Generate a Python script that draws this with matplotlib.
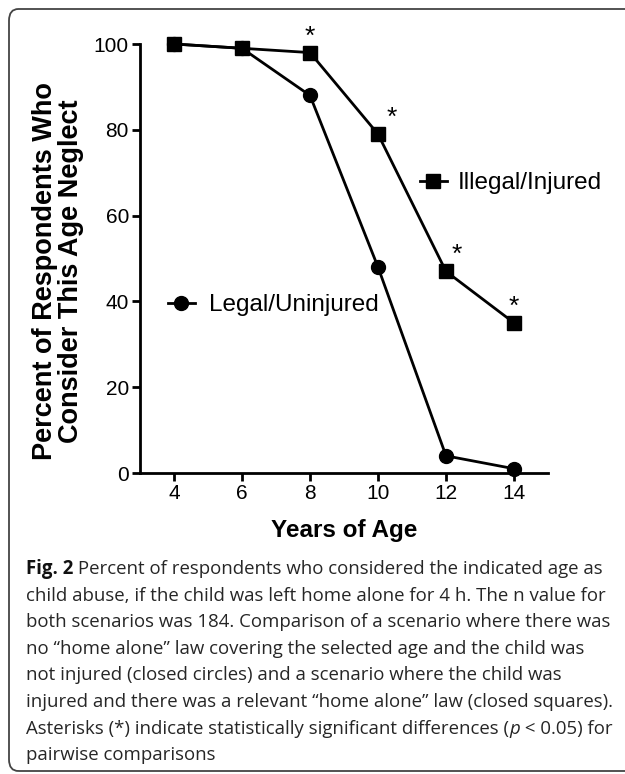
import matplotlib
matplotlib.use('Agg')
import matplotlib.pyplot as plt
from matplotlib.lines import Line2D
from matplotlib.patches import FancyBboxPatch

# データ
ages = [4, 6, 8, 10, 12, 14]
illegal_injured = [100, 99, 98, 79, 47, 35]
legal_uninjured = [100, 99, 88, 48, 4, 1]
sig_ages = [8, 10, 12, 14]
xticks = [4, 6, 8, 10, 12, 14]
yticks = [0, 20, 40, 60, 80, 100]

caption_lines = [
    [('Fig. 2', 'bold'), (' Percent of respondents who considered the indicated age as', 'normal')],
    [('child abuse, if the child was left home alone for 4 h. The n value for', 'normal')],
    [('both scenarios was 184. Comparison of a scenario where there was', 'normal')],
    [('no \u201chome alone\u201d law covering the selected age and the child was', 'normal')],
    [('not injured (closed circles) and a scenario where the child was', 'normal')],
    [('injured and there was a relevant \u201chome alone\u201d law (closed squares).', 'normal')],
    [('Asterisks (*) indicate statistically significant differences (', 'normal'),
     ('p', 'italic'), (' < 0.05) for', 'normal')],
    [('pairwise comparisons', 'normal')],
]

plt.rcParams['font.family'] = ['Liberation Sans', 'DejaVu Sans']

W, H = 625, 774
fig = plt.figure(figsize=(W / 100, H / 100), dpi=100)

# 枠線
box = FancyBboxPatch((9 / W, 1 - 771 / H), 640 / W, 762 / H,
                     boxstyle='round,pad=0,rounding_size=0.015',
                     transform=fig.transFigure, fill=False,
                     edgecolor='#444444', linewidth=1.3)
fig.patches.append(box)

ax = fig.add_axes([140 / W, 1 - 473 / H, 408 / W, 429 / H])
ax.patch.set_alpha(0)

lw = 2.0
ax.plot(ages, illegal_injured, color='black', lw=lw, marker='s', ms=9.5, clip_on=False, zorder=3)
ax.plot(ages, legal_uninjured, color='black', lw=lw, marker='o', ms=10, clip_on=False, zorder=3)

# 有意差のアスタリスク
offsets = {8: (0, 3), 10: (10, 3), 12: (8, 3), 14: (0, 3)}
for a in sig_ages:
    v = illegal_injured[ages.index(a)]
    ax.annotate('*', (a, v), xytext=offsets[a], textcoords='offset points',
                ha='center', va='bottom', fontsize=19, annotation_clip=False)

ax.set_xlim(3, 15)
ax.set_ylim(0, 100)
ax.set_xticks(xticks)
ax.set_yticks(yticks)
for s in ['top', 'right']:
    ax.spines[s].set_visible(False)
for s in ['left', 'bottom']:
    ax.spines[s].set_linewidth(2.0)
ax.tick_params(width=2.0, length=6, labelsize=15, pad=2)

ax.set_xlabel('Years of Age', fontsize=17.5, fontweight='bold', va='center')
ax.xaxis.set_label_coords(0.5, -57 / 429)
ax.set_ylabel('Percent of Respondents Who\nConsider This Age Neglect',
              fontsize=19.5, fontweight='bold', va='center', linespacing=1.0)
ax.yaxis.set_label_coords(-82 / 408, 202 / 429)

# 凡例
h_ill = Line2D([], [], color='black', lw=lw, marker='s', ms=9.5)
h_leg = Line2D([], [], color='black', lw=lw, marker='o', ms=10)
leg1 = ax.legend([h_ill], ['Illegal/Injured'], loc='center left',
                 bbox_to_anchor=(280 / 408, 290 / 429), frameon=False,
                 fontsize=17.5, handlelength=1.1, handletextpad=0.45,
                 borderpad=0, borderaxespad=0)
ax.add_artist(leg1)
ax.legend([h_leg], ['Legal/Uninjured'], loc='center left',
          bbox_to_anchor=(28 / 408, 168 / 429), frameon=False,
          fontsize=17.5, handlelength=1.1, handletextpad=0.6,
          borderpad=0, borderaxespad=0)

# キャプション
renderer = fig.canvas.get_renderer()
cap_font = ['Open Sans', 'DejaVu Sans']
y0 = 569
for i, runs in enumerate(caption_lines):
    x = 26
    y = y0 + i * 26.6
    for txt, style in runs:
        kw = dict(fontsize=13.4, family=cap_font, color='#262626', va='center', ha='left')
        if style == 'bold':
            kw['fontweight'] = 'bold'
            kw['color'] = '#111111'
        if style == 'italic':
            kw['fontstyle'] = 'italic'
        t = fig.text(x / W, 1 - y / H, txt, **kw)
        bb = t.get_window_extent(renderer)
        x = bb.x1

fig.savefig('out.png', dpi=100)
